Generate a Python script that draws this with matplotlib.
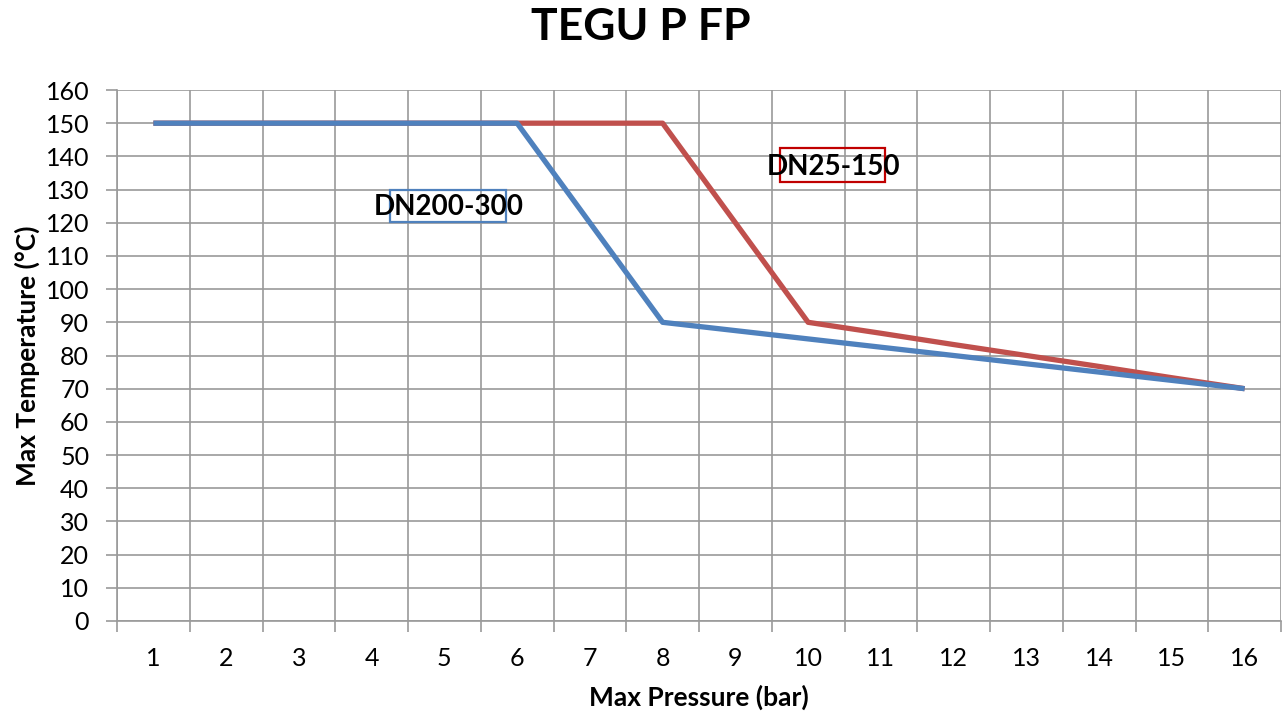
import matplotlib.pyplot as plt
import numpy as np
from matplotlib.patches import Rectangle

plt.rcParams['font.family'] = ['Lato', 'DejaVu Sans']

pressure = [1, 2, 3, 4, 5, 6, 7, 8, 9, 10, 11, 12, 13, 14, 15, 16]
dn200_300 = [150, 150, 150, 150, 150, 150, 120, 90, 87.5, 85, 82.5, 80, 77.5, 75, 72.5, 70]
dn25_150 = [150, 150, 150, 150, 150, 150, 150, 150, 120, 90, 86.7, 83.3, 80, 76.7, 73.3, 70]

BLUE = '#4F81BD'
RED = '#C0504D'
GRID = '#9A9A9A'

fig = plt.figure(figsize=(12.82, 7.13), dpi=100)
ax = fig.add_axes([117 / 1282, 1 - 621 / 713, 1164 / 1282, 531 / 713])

pos = np.arange(1, len(pressure) + 1)
ax.plot(pos, dn25_150, color=RED, lw=3.8, solid_capstyle='butt', zorder=3)
ax.plot(pos, dn200_300, color=BLUE, lw=3.8, solid_capstyle='butt', zorder=4)

ax.set_xlim(0.5, len(pressure) + 0.5)
ax.set_ylim(0, 160)
ax.set_yticks(np.arange(0, 161, 10))
ax.set_xticks(pos)
ax.set_xticklabels([str(p) for p in pressure])
ax.set_xticks(np.arange(0.5, len(pressure) + 1), minor=True)

ax.grid(True, axis='y', color=GRID, lw=1.2)
ax.grid(True, axis='x', which='minor', color=GRID, lw=1.2)
ax.tick_params(axis='x', which='major', length=0, labelsize=18, pad=19)
ax.tick_params(axis='x', which='minor', length=8, color=GRID, width=1.2)
ax.tick_params(axis='y', length=8, color=GRID, width=1.2, labelsize=18, pad=12)
for s in ['top', 'right']:
    ax.spines[s].set_visible(False)
for s in ['left', 'bottom']:
    ax.spines[s].set_color(GRID)
    ax.spines[s].set_linewidth(1.2)
ax.set_axisbelow(True)

ax.set_xlabel('Max Pressure (bar)', fontsize=19, fontweight='bold', labelpad=10)
ax.set_ylabel('Max Temperature (°C)', fontsize=19, fontweight='bold', labelpad=4)
fig.suptitle('TEGU P FP', fontsize=32, fontweight='bold', y=0.99)

# label boxes
ax.add_patch(Rectangle((4.25, 120.2), 1.6, 9.7, fill=False, ec=BLUE, lw=1.6, zorder=5))
ax.text(5.06, 124.7, 'DN200-300', fontsize=20, fontweight='bold', ha='center', va='center', zorder=6)
ax.add_patch(Rectangle((9.61, 132.3), 1.44, 10.2, fill=False, ec='#C00000', lw=1.6, zorder=5))
ax.text(10.35, 136.8, 'DN25-150', fontsize=20, fontweight='bold', ha='center', va='center', zorder=6)

fig.savefig('out.png', dpi=100)
